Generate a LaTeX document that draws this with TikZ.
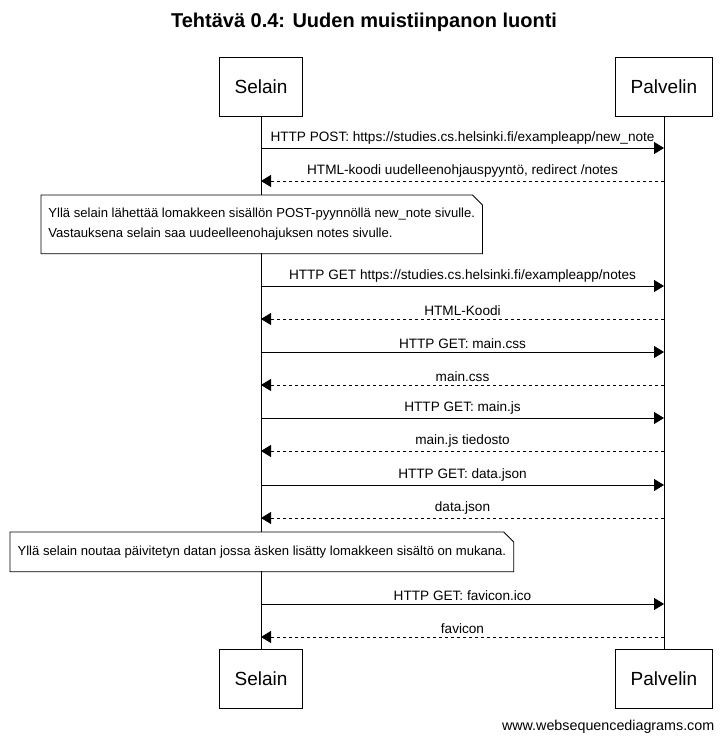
\documentclass[tikz,border=0pt]{standalone}
\usepackage{fontspec}
\setmainfont{Liberation Sans}
\usetikzlibrary{arrows.meta}
\usetikzlibrary{calc}

\tikzset{
    actor/.style={draw, inner xsep=15pt, minimum height=59pt, font=\fontsize{19}{22}\selectfont},
    call/.style={-{Triangle[length=10pt,width=12pt]}},
    reply/.style={dashed, -{Triangle[length=10pt,width=12pt]}},
    lbl/.style={midway, above, inner sep=3pt, font=\fontsize{13.6}{16}\selectfont},
    note/.style={fill=white, align=left, anchor=north west, inner xsep=7pt, font=\fontsize{13.1}{20}\selectfont}
}

\begin{document}
\begin{tikzpicture}[x=1pt,y=-1pt,line width=0.8pt]
        \fill[white] (0,0) rectangle (727,743);
        \useasboundingbox (0,0) rectangle (727,743);

        \node[font=\bfseries\fontsize{20}{24}\selectfont] (title) at (364,22) {Tehtävä 0.4: Uuden muistiinpanon luonti};

        \node[actor] (S)  at (261,86.5)  {Selain};
        \node[actor] (P)  at (664,86.5)  {Palvelin};
        \node[actor] (Sb) at (261,679)   {Selain};
        \node[actor] (Pb) at (664,679)   {Palvelin};

        \draw (S.south) -- (Sb.north);
        \draw (P.south) -- (Pb.north);

        % message levels on the lifelines
        \foreach \n/\y in {1/148,2/181,3/286,4/319,5/352,6/385,7/418,8/451,9/485,10/518,11/604,12/637} {
            \coordinate (s\n) at (261,\y);
            \coordinate (p\n) at (664,\y);
        }

        \draw[call]  (s1) -- node[lbl] {HTTP POST: https://studies.cs.helsinki.fi/exampleapp/new\_note} (p1);
        \draw[reply] (p2) -- node[lbl] {HTML-koodi uudelleenohjauspyyntö, redirect /notes} (s2);

        \node[note, minimum width=440pt, minimum height=58pt] (n1) at (41,195) {Yllä selain lähettää lomakkeen sisällön POST-pyynnöllä new\_note sivulle.\\Vastauksena selain saa uudeelleenohajuksen notes sivulle.};
        \draw (n1.north west) -- ($(n1.north east)+(-10,0)$) -- ($(n1.north east)+(0,10)$) -- (n1.south east) -- (n1.south west) -- cycle;

        \draw[call]  (s3) -- node[lbl] {HTTP GET https://studies.cs.helsinki.fi/exampleapp/notes} (p3);
        \draw[reply] (p4) -- node[lbl] {HTML-Koodi} (s4);
        \draw[call]  (s5) -- node[lbl] {HTTP GET: main.css} (p5);
        \draw[reply] (p6) -- node[lbl] {main.css} (s6);
        \draw[call]  (s7) -- node[lbl] {HTTP GET: main.js} (p7);
        \draw[reply] (p8) -- node[lbl] {main.js tiedosto} (s8);
        \draw[call]  (s9) -- node[lbl] {HTTP GET: data.json} (p9);
        \draw[reply] (p10) -- node[lbl] {data.json} (s10);

        \node[note, minimum width=503pt, minimum height=39pt] (n2) at (10,532) {Yllä selain noutaa päivitetyn datan jossa äsken lisätty lomakkeen sisältö on mukana.};
        \draw (n2.north west) -- ($(n2.north east)+(-10,0)$) -- ($(n2.north east)+(0,10)$) -- (n2.south east) -- (n2.south west) -- cycle;

        \draw[call]  (s11) -- node[lbl] {HTTP GET: favicon.ico} (p11);
        \draw[reply] (p12) -- node[lbl] {favicon} (s12);

        \node[anchor=east, font=\fontsize{14.3}{16}\selectfont] (web) at (718,727) {www.websequencediagrams.com};
    \end{tikzpicture}
\end{document}
